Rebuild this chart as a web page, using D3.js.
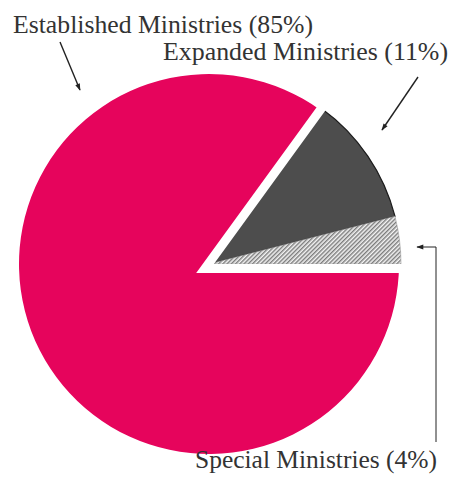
<!DOCTYPE html>
<html>
<head>
<meta charset="utf-8">
<script src="https://cdn.jsdelivr.net/npm/d3@7"></script>
<style>
  html, body { margin: 0; padding: 0; background: #fff; }
  svg { display: block; }
</style>
</head>
<body>
<svg id="chart" width="454" height="484"></svg>
<script>
// ---- data ----
const categories = ["Established Ministries", "Expanded Ministries", "Special Ministries"];
const values = [85, 11, 4];
const labels = ["Established Ministries (85%)", "Expanded Ministries (11%)", "Special Ministries (4%)"];

// ---- layout / style ----
const W = 454, H = 484;
const cx = 209, cy = 264;
const radii = [190, 192, 192];
const fills = ["#e6045c", "#4d4d4d", "url(#hatch)"];
const strokes = ["none", "#1c1c1c", "#9a9a9a"];
const gapCenter = [205, 268.5];
const gapWidth = 9;

const svg = d3.select("#chart");
const defs = svg.append("defs");
const pat = defs.append("pattern")
  .attr("id", "hatch").attr("patternUnits", "userSpaceOnUse")
  .attr("width", 3).attr("height", 3)
  .attr("patternTransform", "rotate(45)");
pat.append("rect").attr("width", 3).attr("height", 3).attr("fill", "#f4f4f4");
pat.append("line").attr("x1", 0.75).attr("y1", 0).attr("x2", 0.75).attr("y2", 3)
  .attr("stroke", "#6f6f6f").attr("stroke-width", 1.3);

const slices = categories.map((c, i) => ({ name: c, value: values[i], i }));
const pie = d3.pie().sort(null).value(d => d.value)
  .startAngle(Math.PI / 2).endAngle(Math.PI / 2 + 2 * Math.PI);
const arcs = pie(slices);

const g = svg.append("g").attr("transform", `translate(${cx},${cy})`);
g.selectAll("path.slice").data(arcs).enter().append("path")
  .attr("class", "slice")
  .attr("d", d => d3.arc().innerRadius(0).outerRadius(radii[d.data.i])(d))
  .attr("fill", d => fills[d.data.i])
  .attr("stroke", d => strokes[d.data.i])
  .attr("stroke-width", d => d.data.i === 1 ? 1.2 : 0.6);

// white separation between the main slice and the others
const main = arcs[0];
const gap = d3.lineRadial().angle(d => d[0]).radius(d => d[1]);
svg.append("path")
  .attr("transform", `translate(${gapCenter[0]},${gapCenter[1]})`)
  .attr("d", gap([[main.endAngle, 215], [main.endAngle, 0], [main.startAngle, 215]]))
  .attr("fill", "none").attr("stroke", "#fff")
  .attr("stroke-width", gapWidth).attr("stroke-linejoin", "miter").attr("stroke-miterlimit", 10);

// ---- labels ----
const labelPos = [
  { x: 13, y: 33, len: 300 },
  { x: 163, y: 60, len: 285 },
  { x: 195, y: 468, len: 242 }
];
svg.selectAll("text.lbl").data(labels).enter().append("text")
  .attr("class", "lbl")
  .attr("x", (d, i) => labelPos[i].x).attr("y", (d, i) => labelPos[i].y)
  .attr("font-family", "Liberation Serif")
  .attr("font-size", 25)
  .attr("fill", "#333")
  .attr("textLength", (d, i) => labelPos[i].len)
  .attr("lengthAdjust", "spacingAndGlyphs")
  .text(d => d);

// ---- arrows ----
defs.append("marker").attr("id", "arr").attr("viewBox", "0 0 10 10")
  .attr("refX", 9).attr("refY", 5).attr("markerWidth", 9).attr("markerHeight", 7)
  .attr("markerUnits", "userSpaceOnUse").attr("orient", "auto")
  .append("path").attr("d", "M0,1.5 L10,5 L0,8.5 Z").attr("fill", "#222");

const arrows = [
  [[60, 42], [80, 90]],
  [[418, 77], [382, 130]],
  [[436, 442], [436, 247], [417, 247]]
];
const line = d3.line();
svg.selectAll("path.arrow").data(arrows).enter().append("path")
  .attr("class", "arrow")
  .attr("d", d => line(d))
  .attr("fill", "none").attr("stroke", "#222")
  .attr("stroke-width", (d, i) => i === 2 ? 1 : 1.4)
  .attr("marker-end", "url(#arr)");
</script>
</body>
</html>
